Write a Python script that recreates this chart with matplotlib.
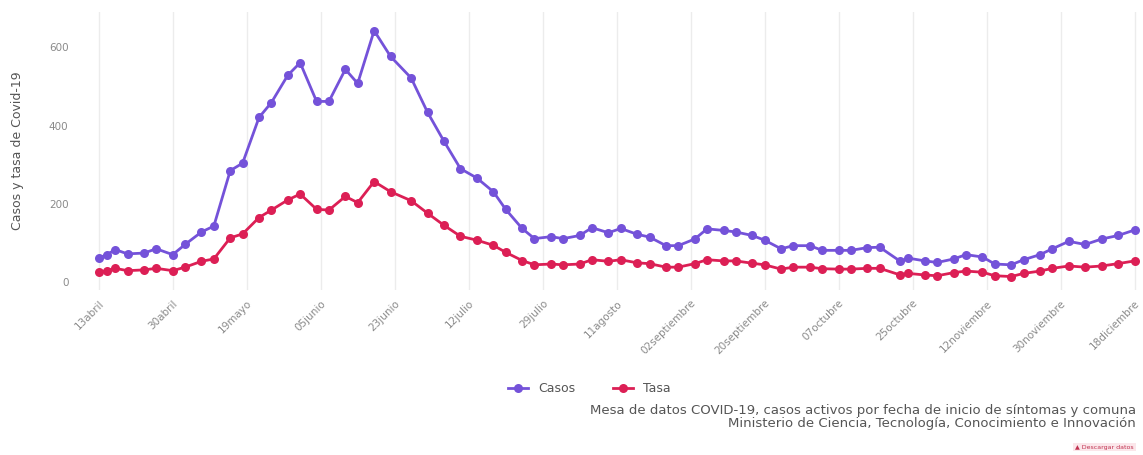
import matplotlib
matplotlib.use("Agg")
import matplotlib.pyplot as plt
import numpy as np

# dias desde el 13 de abril
dias = [0, 2, 4, 7, 11, 14, 18, 21, 25, 28, 32, 35, 39, 42, 46, 49, 53, 56, 60, 63,
        67, 71, 76, 80, 84, 88, 92, 96, 99, 103, 106, 110, 113, 117, 120, 124, 127, 131, 134, 138,
        141, 145, 148, 152, 155, 159, 162, 166, 169, 173, 176, 180, 183, 187, 190, 195, 197, 201, 204, 208,
        211, 215, 218, 222, 225, 229, 232, 236, 240, 244, 248, 252]

casos = [61, 70, 83, 72, 74, 85, 70, 96, 128, 143, 285, 304, 421, 459, 529, 561, 462, 462, 544, 508,
         643, 577, 522, 434, 360, 290, 266, 231, 186, 137, 111, 116, 111, 119, 139, 126, 137, 122, 115, 93,
         93, 110, 136, 132, 128, 119, 107, 85, 93, 93, 81, 81, 81, 88, 89, 53, 61, 54, 50, 59,
         70, 64, 46, 44, 57, 70, 85, 104, 96, 110, 119, 133]

tasa = [25, 29, 35, 29, 31, 35, 29, 38, 53, 59, 113, 123, 165, 184, 210, 225, 186, 184, 219, 203,
        257, 231, 208, 176, 145, 117, 107, 94, 76, 55, 44, 46, 44, 46, 57, 53, 57, 49, 47, 38,
        38, 47, 57, 54, 54, 48, 44, 33, 38, 38, 34, 33, 33, 35, 35, 18, 22, 18, 16, 24,
        28, 25, 16, 14, 22, 28, 35, 41, 38, 41, 47, 54]

etiquetas = ["13abril", "30abril", "19mayo", "05junio", "23junio", "12julio", "29julio",
             "11agosto", "02septiembre", "20septiembre", "07octubre", "25octubre",
             "12noviembre", "30noviembre", "18diciembre"]
pos_etiquetas = [18 * i for i in range(len(etiquetas))]

fig = plt.figure(figsize=(11.43, 4.55), dpi=100)
ax = fig.add_axes([0.072, 0.363, 0.926, 0.61])

color_casos = "#7452d9"
color_tasa = "#dc1f55"

ax.plot(dias, casos, color=color_casos, lw=2, marker="o", ms=6.5,
        markeredgewidth=0, label="Casos", zorder=3)
ax.plot(dias, tasa, color=color_tasa, lw=2, marker="o", ms=6.5,
        markeredgewidth=0, label="Tasa", zorder=3)

ax.set_xlim(-4, 253.5)
ax.set_ylim(-20, 690)
ax.set_yticks([0, 200, 400, 600])
ax.set_xticks(pos_etiquetas)
ax.set_xticklabels(etiquetas, rotation=45, ha="right", rotation_mode="anchor")
ax.tick_params(axis="both", length=0, labelsize=7.5, labelcolor="#8a8a8a")
ax.tick_params(axis="x", pad=6)
ax.tick_params(axis="y", pad=10)
ax.grid(axis="x", color="#ececec", lw=1)
ax.grid(axis="y", visible=False)
for s in ax.spines.values():
    s.set_visible(False)

ax.set_ylabel("Casos y tasa de Covid-19", fontsize=9, color="#555555", labelpad=18)

fig.legend(loc="upper left", bbox_to_anchor=(0.435, 0.185), ncol=2, frameon=False,
           fontsize=9, labelcolor="#555555", handlelength=1.6, columnspacing=3)

fig.text(0.994, 0.083,
         "Mesa de datos COVID-19, casos activos por fecha de inicio de síntomas y comuna\n"
         "Ministerio de Ciencia, Tecnología, Conocimiento e Innovación",
         ha="right", va="center", fontsize=9.5, color="#555555", linespacing=0.95)
fig.text(0.992, 0.012, "▲ Descargar datos", ha="right", va="bottom", fontsize=4.5,
         color="#c0304f", bbox=dict(boxstyle="square,pad=0.3", fc="#fbe6ea", ec="none"))

fig.savefig("out.png", dpi=100)
